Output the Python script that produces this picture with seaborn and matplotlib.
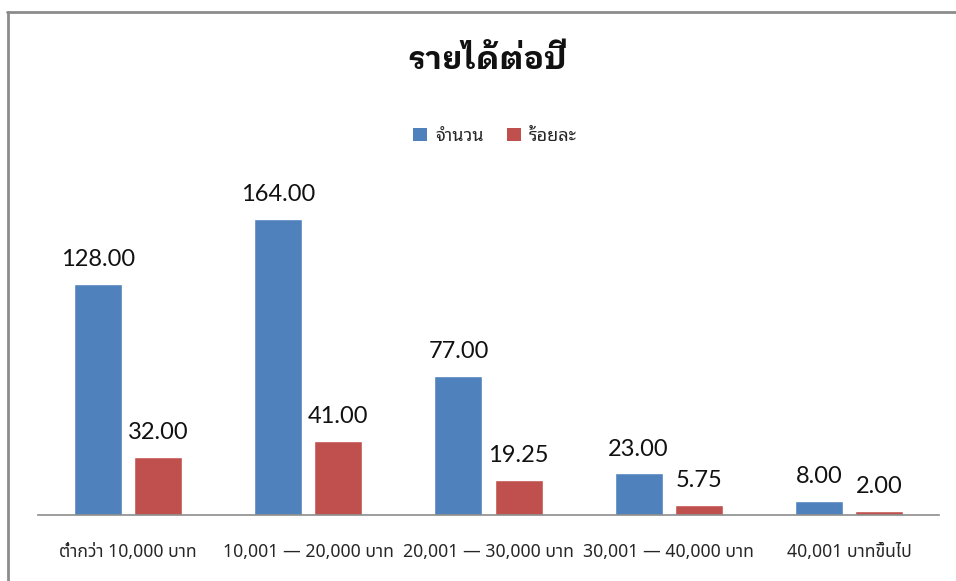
import matplotlib
matplotlib.use("Agg")
import matplotlib.pyplot as plt
import seaborn as sns
import pandas as pd
from matplotlib import font_manager
from matplotlib.ft2font import FT2Font
from matplotlib.lines import Line2D
from matplotlib.patches import Patch

categories = ["ต่ำกว่า 10,000 บาท", "10,001 — 20,000 บาท", "20,001 — 30,000 บาท",
              "30,001 — 40,000 บาท", "40,001 บาทขึ้นไป"]
counts = [128.00, 164.00, 77.00, 23.00, 8.00]
percents = [32.00, 41.00, 19.25, 5.75, 2.00]
series_names = ["จำนวน", "ร้อยละ"]
title_text = "รายได้ต่อปี"

colors = ["#4F81BD", "#C0504D"]


def fonts_with_thai():
    names = set()
    for f in font_manager.fontManager.ttflist:
        try:
            cmap = FT2Font(f.fname).get_charmap()
        except Exception:
            continue
        if 0x0E23 in cmap and 0x0E32 in cmap and 0x0E49 in cmap:
            names.add(f.name)
    return names


def pick(preferred, available, fallback):
    for name in preferred:
        if name in available:
            return name
    return fallback


thai = fonts_with_thai()
any_thai = sorted(thai)[0] if thai else "DejaVu Sans"
title_font = pick(["IBM Plex Sans Thai Looped", "Sarabun", "Noto Sans Thai UI"], thai, any_thai)
legend_font = pick(["Noto Sans Thai Looped", "IBM Plex Sans Thai Looped", "Sarabun"], thai, any_thai)
tick_font = pick(["Noto Sans Thai", "IBM Plex Sans Thai", "Anuphan"], thai, any_thai)

sns.set_theme(style="white")
plt.rcParams["font.family"] = [legend_font, "DejaVu Sans"]

df = pd.DataFrame({
    "category": categories * 2,
    "value": counts + percents,
    "series": [series_names[0]] * len(categories) + [series_names[1]] * len(categories),
})

fig = plt.figure(figsize=(9.56, 5.81), dpi=100)
ax = fig.add_axes([38 / 956, 1 - 515 / 581, (939 - 38) / 956, 325.3 / 581])

sns.barplot(data=df, x="category", y="value", hue="series", palette=colors,
            width=0.667, gap=0.2, ax=ax, legend=False, saturation=1)
ax.set_ylim(0, 180)
ax.set_xlim(-0.5, len(categories) - 0.5)
ax.set_xlabel("")
ax.set_ylabel("")
ax.set_yticks([])
for s in ["top", "right", "left"]:
    ax.spines[s].set_visible(False)
ax.spines["bottom"].set_color("#8c8c8c")
ax.spines["bottom"].set_linewidth(1.2)
ax.tick_params(axis="x", length=0, pad=20, labelsize=12.7, colors="#262626")
for lbl in ax.get_xticklabels():
    lbl.set_family([tick_font, "DejaVu Sans"])

num_family = ["Lato", "DejaVu Sans"]
for container in ax.containers:
    ax.bar_label(container, fmt="%.2f", padding=10, fontsize=17,
                 color="#111111", family=num_family)

fig.text(0.51, 1 - 60 / 581, title_text, ha="center", va="center",
         fontsize=23, fontweight="bold", color="#111111",
         family=[title_font, "DejaVu Sans"])

handles = [Patch(facecolor=c, edgecolor="none") for c in colors]
fig.legend(handles, series_names, loc="center", bbox_to_anchor=(0.518, 1 - 136 / 581),
           ncol=2, frameon=False, fontsize=13, handlelength=0.75, handleheight=0.75,
           handletextpad=0.45, columnspacing=1.3)

# outer frame: left and top edges
fig.add_artist(Line2D([8 / 956, 8 / 956], [0, 1 - 11.5 / 581], color="#8c8c8c",
                      lw=2, transform=fig.transFigure))
fig.add_artist(Line2D([7 / 956, 1], [1 - 11.5 / 581, 1 - 11.5 / 581], color="#8c8c8c",
                      lw=2, transform=fig.transFigure))

fig.savefig("out.png", dpi=100, facecolor="white")
